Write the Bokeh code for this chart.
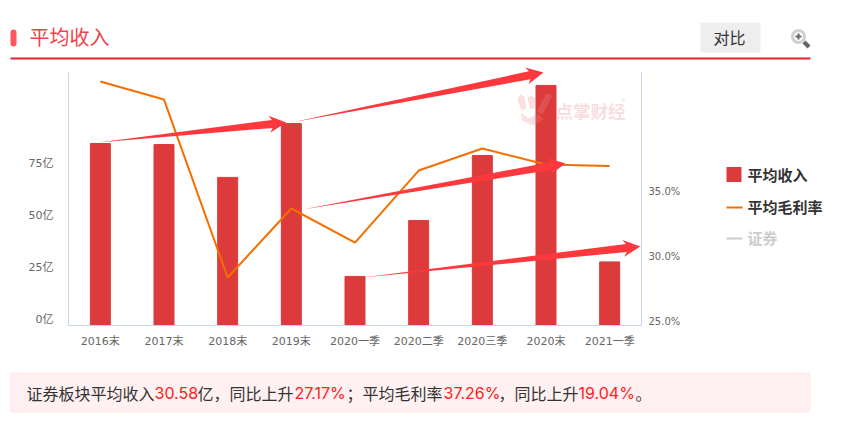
import math
from bokeh.plotting import figure
from bokeh.layouts import column, row
from bokeh.embed import file_html
from bokeh.resources import INLINE
from bokeh.models import (ColumnDataSource, Range1d, FactorRange, LinearAxis, FixedTicker,
                          Label, BoxAnnotation, PolyAnnotation)

periods = ["2016末", "2017末", "2018末", "2019末", "2020一季", "2020二季", "2020三季", "2020末", "2021一季"]
revenue = [87.5, 87.0, 71.2, 97.1, 23.6, 50.5, 81.7, 115.4, 30.58]
margin = [43.77, 42.38, 28.69, 34.0, 31.38, 36.92, 38.62, 37.38, 37.26]
rev_ticks = [0, 25, 50, 75]
margin_ticks = [25, 30, 35]
rev_tick_labels = {0: "0亿", 25: "25亿", 50: "50亿", 75: "75亿"}
margin_tick_labels = {25: "25.0%", 30: "30.0%", 35: "35.0%"}
# trend arrows: (category position, revenue in 亿) of tail and tip
arrows = [((0.47, 88.0), (3.42, 97.6)),
          ((3.50, 97.6), (7.46, 121.6)),
          ((3.675, 55.8), (7.806, 77.9)),
          ((4.62, 23.1), (8.98, 38.0))]
note_parts = [("证券板块平均收入", 26, "#333333"), ("30.58", 154, "#ff2020"), ("亿，同比上升", 197, "#333333"),
              ("27.17%", 294, "#ff2020"), ("；平均毛利率", 346, "#333333"), ("37.26%", 443, "#ff2020"),
              ("，同比上升", 498, "#333333"), ("19.04%", 578, "#ff2020"), ("。", 635, "#333333")]

W = 828                                 # page width used
TOP_H, MID_H, BOT_H = 60, 305, 55       # header, chart and note strips
CHART_W = 700
FL, FR, FT, AXT, FB = 68, 641, 62, 72, 325   # frame edges on the page; AXT = top of the axis lines
PX_PER_REV, PX_PER_PCT = 52 / 25, 13
REV_TOP = (FB - FT) / PX_PER_REV
PCT_TOP = 25 + (FB - FT) / PX_PER_PCT
FONT = "Noto Sans CJK SC"
NUMFONT = "Inter"
AXFONT = "DejaVu Sans, Noto Sans CJK SC"
RED = "#dd3b3b"; ORANGE = "#f56f00"; ARROW = "#fe383c"


def strip(w, x0, y0, h, pad_top=0, pad_bottom=0):
    """A blank figure whose data coordinates are page pixels."""
    f = figure(width=w, height=h + pad_top + pad_bottom, output_backend="svg", toolbar_location=None,
               x_axis_location=None, y_axis_location=None,
               x_range=Range1d(x0, x0 + w), y_range=Range1d(y0 + h, y0), min_border=0,
               min_border_top=pad_top, min_border_bottom=pad_bottom, outline_line_color=None,
               background_fill_color=None, border_fill_color=None)
    f.grid.visible = False
    return f

def label(f, text, x, y, size, color, bold=False, font=FONT, alpha=1.0):
    f.add_layout(Label(x=x, y=y, text=text, text_font=font, text_font_size=size, text_color=color, text_align="left",
                       text_baseline="middle", text_alpha=alpha, text_font_style="bold" if bold else "normal", level="overlay"))

def box(f, l, r, t, b, fill, line=None, radius=0):
    f.add_layout(BoxAnnotation(left=l, right=r, top=t, bottom=b, fill_color=fill, fill_alpha=1, line_color=line,
                               border_radius=radius, level="underlay"))

def poly(f, pts, fill, line=None, width=1):
    f.add_layout(PolyAnnotation(xs=[a for a, _ in pts], ys=[b for _, b in pts], fill_color=fill, fill_alpha=1 if fill else 0,
                                line_color=line, line_width=width, level="overlay"))

# ---- header
top = strip(W, 0, 0, TOP_H)
box(top, 10, 16, 29, 46, "#fb5a5c", radius=3)
label(top, "平均收入", 29, 36, "20px", "#f0444a")
box(top, 10, 810, 57, 59, "#e0202c")
box(top, 700, 760, 22, 52, "#eeeeee")
label(top, "对比", 713, 36, "16px", "#333333")
ring = [(798 + 6 * math.cos(i * math.pi / 12), 36 + 6 * math.sin(i * math.pi / 12)) for i in range(24)]
poly(top, ring, None, "#666666", 3)
poly(top, [(802, 43), (805, 40), (810, 45), (807, 48)], "#666666")
box(top, 795, 801, 35, 37, "#666666")
box(top, 797, 799, 33, 39, "#666666")

# ---- chart
p = figure(width=CHART_W, height=MID_H, output_backend="svg", toolbar_location=None,
           x_range=FactorRange(*periods, range_padding=0), y_range=Range1d(0, REV_TOP),
           x_axis_location="below", y_axis_location=None,
           min_border_left=FL, min_border_right=CHART_W - FR, min_border_top=FT - TOP_H,
           min_border_bottom=TOP_H + MID_H - FB, outline_line_color=None, background_fill_color=None)
p.grid.visible = False
REV_SHIFT, PCT_SHIFT = 6 / PX_PER_REV, 4 / PX_PER_PCT   # labels sit a little above their tick
p.extra_y_ranges = {
    "pct": Range1d(25, PCT_TOP),
    "revlbl": Range1d(-REV_SHIFT, REV_TOP - REV_SHIFT),
    "pctlbl": Range1d(25 - PCT_SHIFT, PCT_TOP - PCT_SHIFT),
}

def style(ax, size="11px"):
    ax.axis_line_color = "#c7d3e8"; ax.axis_line_width = 1
    ax.major_tick_line_color = None; ax.minor_tick_line_color = None
    ax.major_label_text_color = "#666666"; ax.major_label_text_font_size = size
    ax.major_label_text_font = AXFONT

style(p.xaxis[0]); p.xaxis[0].major_label_standoff = 3
left = LinearAxis(y_range_name="revlbl", ticker=FixedTicker(ticks=rev_ticks), major_label_overrides=rev_tick_labels,
                  bounds=(-REV_SHIFT, (FB - AXT) / PX_PER_REV - REV_SHIFT))
style(left); left.major_label_standoff = 9
right = LinearAxis(y_range_name="pctlbl", ticker=FixedTicker(ticks=margin_ticks), major_label_overrides=margin_tick_labels,
                   bounds=(25 - PCT_SHIFT, 25 + (FB - AXT) / PX_PER_PCT - PCT_SHIFT))
style(right, "10px"); right.major_label_standoff = 1
p.add_layout(left, "left"); p.add_layout(right, "right")

src = ColumnDataSource(dict(period=periods, revenue=revenue, margin=margin))
p.vbar(x="period", top="revenue", width=20 / 63.67, color=RED, source=src)
p.line(x="period", y="margin", y_range_name="pct", line_color=ORANGE, line_width=2, source=src)

KX = (FR - FL) / len(periods)
def dx(px): return (px - FL) / KX
def dy(py): return (FB - py) / PX_PER_REV

# arrows taper from the tail and are shaped in pixels, then mapped back to data space
for (tx, ty), (hx, hy) in arrows:
    x0, y0 = tx * KX, ty * PX_PER_REV
    x1, y1 = hx * KX, hy * PX_PER_REV
    L = math.hypot(x1 - x0, y1 - y0); ux, uy = (x1 - x0) / L, (y1 - y0) / L; nx, ny = -uy, ux
    at = lambda back, off: (x1 - ux * back + nx * off, y1 - uy * back + ny * off)
    pts = [(x0, y0), at(14, 4), at(17, 8.5), (x1, y1), at(17, -8.5), at(14, -4)]
    p.patch([a / KX for a, _ in pts], [b / PX_PER_REV for _, b in pts], color=ARROW, line_width=0)

# watermark
WM = "#e88a8a"
for shape in [[(517, 99), (520, 94), (524, 96), (526, 108), (521, 110)],
              [(527, 97), (531, 95), (535, 98), (534, 108), (529, 108)],
              [(536, 111), (546, 93), (552, 95), (542, 114)],
              [(520, 112), (528, 118), (538, 113), (543, 119), (532, 125), (522, 120)]]:
    p.patch([dx(a) for a, _ in shape], [dy(b) for _, b in shape], color=WM, alpha=0.27, line_width=0)
p.add_layout(Label(x=dx(555), y=dy(110), text="点掌财经", text_font=FONT, text_font_size="17.5px", text_color=WM, text_alpha=0.3,
                   text_font_style="bold", text_baseline="middle"))
p.add_layout(Label(x=dx(621), y=dy(100), text="®", text_font=FONT, text_font_size="8px", text_color=WM, text_alpha=0.4,
                   text_baseline="middle"))

# ---- legend: its frame lines up with the chart's frame in the row
leg = strip(W - CHART_W, CHART_W, FT, FB - FT, pad_top=FT - TOP_H, pad_bottom=TOP_H + MID_H - FB)
box(leg, 726, 741, 166.5, 181.5, RED)
label(leg, "平均收入", 747, 174, "15px", "#333333", bold=True)
box(leg, 726, 742, 206, 208, ORANGE)
label(leg, "平均毛利率", 747, 206, "15px", "#333333", bold=True)
box(leg, 726, 742, 237, 239, "#cccccc")
label(leg, "证券", 747, 236.5, "15px", "#cccccc", bold=True)

# ---- note
bot = strip(W, 0, TOP_H + MID_H, BOT_H)
box(bot, 10.5, 809.5, 372.5, 411.5, "#fff0f1", "#fbc6ca")
for text, x, col in note_parts:
    label(bot, text, x, 392, "16px", col, font=NUMFONT if col == "#ff2020" else FONT)

page = column(top, row(p, leg), bot)
open("out.html", "w").write(file_html(page, INLINE))
